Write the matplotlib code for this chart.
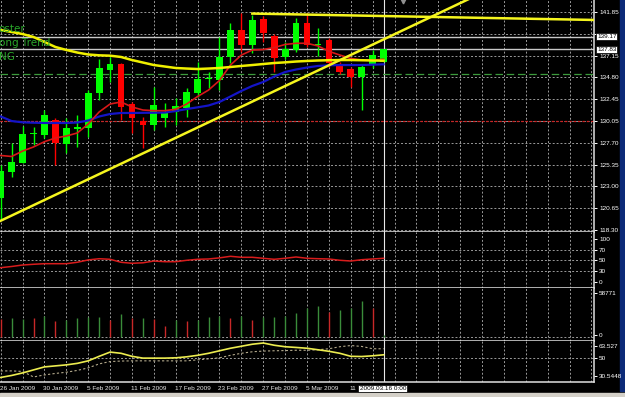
import numpy as np
import pandas as pd
import matplotlib
matplotlib.use("Agg")
import matplotlib.pyplot as plt
from matplotlib import font_manager
from matplotlib.patches import Rectangle

# daily bars 26 Jan 2009 .. 16 Mar 2009
days = pd.bdate_range("2009-01-26", "2009-03-16")

opens = [121.76, 124.60, 125.57, 128.67, 128.56, 130.18, 127.59, 129.18, 129.37, 133.13, 135.58, 136.23,
         131.96, 130.11, 129.64, 130.40, 131.05, 131.45, 133.13, 134.61, 134.50, 137.02, 139.90, 138.28,
         141.06, 139.26, 136.96, 137.75, 140.69, 138.28, 138.83, 136.12, 135.66, 134.86, 136.12, 136.48]
highs = [125.30, 127.67, 129.48, 129.46, 131.26, 130.40, 130.37, 130.72, 133.42, 136.74, 137.02, 136.34,
         132.13, 130.54, 133.78, 132.00, 132.53, 133.61, 136.48, 135.40, 139.18, 140.69, 141.77, 141.53,
         141.42, 139.47, 138.64, 141.17, 141.71, 140.12, 139.04, 136.48, 135.90, 136.12, 137.75, 137.90]
lows = [119.38, 124.06, 125.54, 127.48, 128.20, 125.32, 126.59, 127.30, 128.35, 132.34, 134.32, 130.18,
        128.75, 127.12, 129.10, 129.46, 129.64, 130.54, 132.70, 133.61, 133.42, 136.31, 137.56, 137.39,
        138.64, 135.40, 136.77, 137.53, 138.07, 137.10, 135.90, 135.15, 133.72, 131.26, 135.80, 136.40]
closes = [124.67, 125.68, 128.62, 128.78, 130.72, 127.67, 129.29, 129.46, 133.13, 135.77, 136.23, 131.59,
          130.37, 129.64, 131.80, 131.05, 131.70, 133.24, 134.61, 134.72, 137.02, 139.90, 138.28, 140.99,
          139.55, 136.85, 137.82, 140.69, 138.28, 138.39, 136.31, 135.40, 134.80, 135.94, 137.20, 137.83]

ma_fast = [126.35, 126.24, 126.83, 127.27, 127.84, 128.24, 128.45, 128.78, 129.75, 131.05, 131.91, 132.13,
           131.59, 131.26, 131.19, 131.19, 131.34, 131.91, 132.72, 133.42, 134.45, 136.12, 137.20, 137.74,
           137.80, 138.01, 138.34, 138.47, 138.47, 138.18, 137.60, 137.20, 136.83, 136.66, 136.66, 136.74]
ma_mid = [130.56, 130.07, 129.93, 129.89, 129.86, 129.86, 129.86, 129.91, 130.13, 130.56, 130.83, 130.94,
          130.94, 130.96, 130.97, 130.99, 131.15, 131.37, 131.55, 131.75, 132.13, 132.72, 133.32, 133.86,
          134.29, 134.88, 135.37, 135.64, 135.85, 136.02, 136.09, 136.12, 136.12, 136.12, 136.16, 136.20]
ma_slow = [139.90, 139.69, 139.47, 139.15, 138.61, 138.07, 137.75, 137.47, 137.26, 137.17, 137.13, 136.99,
           136.66, 136.39, 136.12, 135.96, 135.80, 135.74, 135.69, 135.74, 135.80, 135.91, 136.02, 136.12,
           136.23, 136.34, 136.41, 136.50, 136.56, 136.61, 136.64, 136.66, 136.66, 136.64, 136.61, 136.59]

rsi = [36.3, 38.6, 41.4, 42.8, 43.9, 43.9, 43.9, 46.6, 51.1, 53.4, 52.3, 46.6, 44.7, 45.6, 49.0, 47.7,
       47.7, 50.4, 52.3, 52.9, 55.0, 58.0, 56.1, 56.1, 54.2, 52.3, 54.2, 56.7, 54.2, 53.4, 52.9, 50.4,
       49.0, 51.5, 52.9, 54.2]

volumes = [21670, 22900, 22040, 22900, 25350, 19960, 20810, 22900, 24860, 24490, 20810, 28530, 22900,
           22900, 22040, 13840, 20810, 19960, 20810, 24120, 25710, 23630, 26080, 20810, 24860, 24120,
           26080, 29020, 35870, 37960, 30980, 33060, 35140, 44080, 35140, 2500]
vol_up = [0, 1, 1, 0, 1, 0, 1, 1, 1, 1, 0, 1, 0, 1, 0, 0, 1, 0, 1, 1, 1, 0, 1, 0, 1, 1, 1, 1, 1, 1,
          0, 1, 1, 1, 0, 1]

osc_main = [34.38, 35.97, 37.97, 40.37, 42.76, 43.56, 44.36, 45.56, 47.56, 51.15, 54.50, 53.54, 51.15,
            49.71, 49.71, 49.71, 49.95, 50.75, 51.95, 53.54, 55.54, 57.54, 59.13, 60.73, 61.69, 59.93,
            58.74, 58.18, 57.54, 56.34, 55.14, 53.54, 51.15, 50.99, 51.55, 52.35]
osc_signal = [39.57, 39.57, 39.17, 34.78, 36.38, 37.57, 38.53, 39.97, 41.96, 45.16, 46.99, 47.39, 47.55,
              47.55, 47.55, 47.55, 47.55, 47.55, 48.35, 49.15, 49.95, 51.95, 53.54, 54.74, 55.30, 55.54,
              55.70, 55.94, 55.94, 56.34, 57.14, 58.74, 59.69, 58.98, 57.14, 57.14]

# 139.50 is hidden behind the 139.17 price box in the terminal
price_labels = ["141.85", "", "137.15", "134.80", "132.45", "130.05", "127.70", "125.35",
                "123.00", "120.65", "118.30"]
price_levels = [141.85, 139.50, 137.15, 134.80, 132.45, 130.05, 127.70, 125.35, 123.00, 120.65, 118.30]
line_levels = [139.17, 137.83]
green_level = 135.10
red_level = 130.05
trend_pts = [(0, 119.30), (35, 138.89)]
resist_pts = [(23, 141.68), (35, 141.415)]
date_idx = [0, 4, 8, 12, 16, 20, 24, 28, 32]
signal_texts = ["oster", "ong Trend", "NG"]

W, H = 625, 397
names = {f.name for f in font_manager.fontManager.ttflist}
small_font = "Liberation Sans Narrow" if "Liberation Sans Narrow" in names else "Liberation Sans"
FS = 5.6 if small_font == "Liberation Sans Narrow" else 4.6

fig = plt.figure(figsize=(W / 100, H / 100), dpi=100, facecolor="black")


def px_axes(x0, y0, x1, y1):
    a = fig.add_axes([x0 / W, 1 - y1 / H, (x1 - x0) / W, (y1 - y0) / H])
    a.set_facecolor("black")
    return a


BAR = 10.94
XL = (-0.7 / BAR, (593.5 - 0.7) / BAR)
GRID = dict(color="#9a9a9a", lw=0.7, ls=(0, (2, 2)))

ax = px_axes(0, 0, 593.5, 232.3)
ax_rsi = px_axes(0, 232.3, 593.5, 287.7)
ax_vol = px_axes(0, 287.7, 593.5, 340.7)
ax_osc = px_axes(0, 340.7, 593.5, 382.3)

for a in (ax, ax_rsi, ax_vol, ax_osc):
    a.set_xlim(*XL)
    a.set_xticks([])
    for s in ("left", "top"):
        a.spines[s].set_visible(False)
    for s in ("right", "bottom"):
        a.spines[s].set_color("#e0e0e0")
        a.spines[s].set_linewidth(1.1)
    a.yaxis.tick_right()
    a.tick_params(axis="y", colors="white", length=2.5, width=0.7, pad=1.5)
    for gx in range(0, 56, 2):
        a.axvline(gx, zorder=0, **GRID)
    a.axvline(35, color="#e8e8e8", lw=0.8, zorder=1)

x = np.arange(len(closes))
o = np.array(opens)
c = np.array(closes)
up = c >= o

# main price window
ax.set_ylim(118.05, 143.146)
for lv in price_levels:
    ax.axhline(lv, zorder=0, **GRID)
ax.set_yticks(price_levels, price_labels, fontsize=FS, fontfamily=small_font)
for lv in line_levels:
    ax.axhline(lv, color="#c8c8c8", lw=1.0, zorder=1)
ax.axhline(green_level, color="#3c9a3c", lw=0.9, ls=(0, (6, 3)), zorder=1)
ax.axhline(red_level, color="#d02020", lw=0.9, ls=(0, (2, 1.5)), zorder=1)

cols = np.where(up, "#00ff00", "#ff0000")
ax.vlines(x, lows, highs, colors=cols, lw=1.0, zorder=2)
body = np.maximum(np.abs(c - o), 0.09)
ax.bar(x, body, bottom=np.minimum(o, c), width=0.62, color=cols, lw=0, zorder=2)

ax.plot(x, ma_mid, color="#1414c8", lw=1.6, zorder=3)
ax.plot(x, ma_fast, color="#d81818", lw=1.2, zorder=3)
ax.plot(x, ma_slow, color="#f0f000", lw=1.8, zorder=3)

(t0, p0), (t1, p1) = trend_pts
k = (p1 - p0) / (t1 - t0)
tx = np.array([XL[0], XL[1]])
ax.plot(tx, p0 + k * (tx - t0), color="#f5f51e", lw=1.8, zorder=4)
(r0, q0), (r1, q1) = resist_pts
kr = (q1 - q0) / (r1 - r0)
rx = np.array([r0, XL[1]])
ax.plot(rx, q0 + kr * (rx - r0), color="#f5f51e", lw=1.8, zorder=4)
ax.plot([36.8], [143.0], marker="v", color="#909090", ms=3.5, clip_on=False, zorder=5)

# RSI window
ax_rsi.set_ylim(-1.8, 103.7)
for lv in (70, 50, 30):
    ax_rsi.axhline(lv, zorder=0, **GRID)
ax_rsi.set_yticks([91, 70, 50, 30, 8.5], ["100", "70", "50", "30", "0"], fontsize=FS,
                  fontfamily=small_font)
ax_rsi.plot(x, rsi, color="#d81c1c", lw=1.1, zorder=3)

# volumes
ax_vol.set_ylim(-4530, 60360)
ax_vol.axhline(0, zorder=0, **GRID)
vcols = ["#3a8c3a" if u else "#c82828" for u in vol_up]
ax_vol.vlines(x, 0, volumes, colors=vcols, lw=1.0, zorder=2)
ax_vol.set_yticks([54240, 2450], ["58771", "0"], fontsize=FS, fontfamily=small_font)

# oscillator
ax_osc.set_ylim(30.5448, 63.527)
ax_osc.axhline(50, zorder=0, **GRID)
ax_osc.plot(x, osc_signal, color="#b4aa8c", lw=0.8, ls=(0, (2, 2)), zorder=2)
ax_osc.plot(x, osc_main, color="#ecec50", lw=1.2, zorder=3)
ax_osc.set_yticks([58.98, 50, 35.57], ["63.527", "50", "30.5448"], fontsize=FS,
                  fontfamily=small_font)

# date labels (the last one is hidden by the cursor date box, only "11" shows)
for i in date_idx:
    d = days[i]
    lab = f"{d.day} {d.strftime('%b %Y')}" if i != date_idx[-1] else f"{d.day}"
    fig.text((0.7 + BAR * i - 1) / W, 1 - 388.5 / H, lab, color="#e8e8e8", fontsize=FS,
             fontfamily=small_font, va="center", ha="left")
fig.text(359.5 / W, 1 - 388.5 / H, days[-1].strftime("%Y.%m.%d") + " 0:00", color="black", fontsize=FS,
         fontfamily=small_font, va="center", ha="left",
         bbox=dict(boxstyle="square,pad=0.2", fc="white", ec="black", lw=0.5))

# current price boxes
for lv in line_levels:
    yy = 12 + (141.85 - lv) * 9.257
    fig.text(597 / W, 1 - yy / H, f"{lv:.2f}", color="black", fontsize=FS, fontfamily=small_font,
             va="center", ha="left", zorder=10,
             bbox=dict(boxstyle="square,pad=0.15", fc="white", ec="black", lw=0.5))

# signal texts top-left
for j, t in enumerate(signal_texts):
    fig.text(-1.5 / W, 1 - (29 + 14 * j) / H, t, color="#2aa62a", fontsize=7.5, va="center", ha="left")

# window frame
fig.patches.append(Rectangle((620 / W, 6 / H), 5 / W, 1, transform=fig.transFigure, color="#0c2a78",
                             zorder=-1))
fig.patches.append(Rectangle((0, 0), 1, 4 / H, transform=fig.transFigure, color="#d4d0c8", zorder=-1))

fig.savefig("out.png", dpi=100, facecolor="black")
